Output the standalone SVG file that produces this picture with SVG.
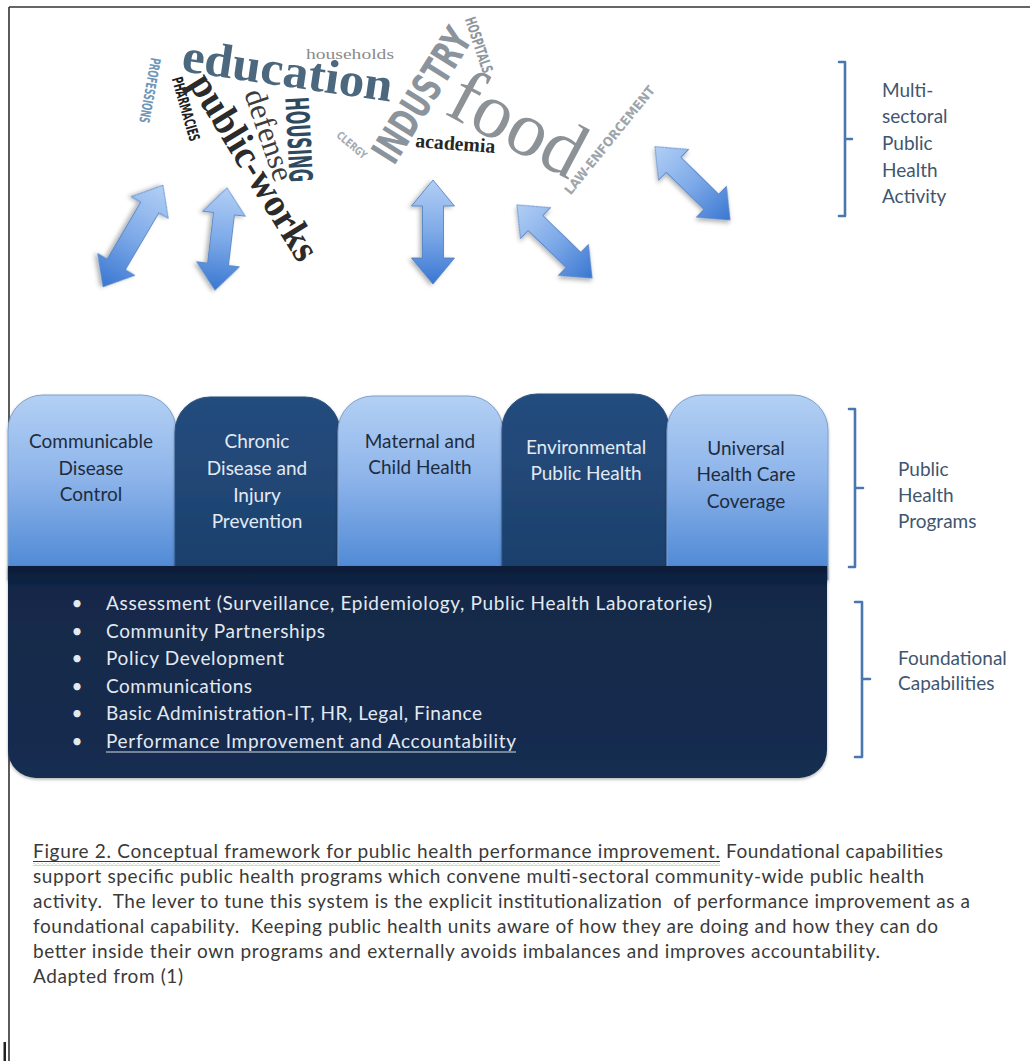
<svg xmlns="http://www.w3.org/2000/svg" width="1030" height="1061" viewBox="0 0 1030 1061">
<defs>
<style>
.cal{font-family:Lato,"Open Sans","Liberation Sans",sans-serif;}
.lbl{font-size:19px;fill:#3f566f;}
.bl{font-size:19px;fill:#1e2c40;text-anchor:middle;}
.bd{font-size:19px;fill:#e2e9f2;text-anchor:middle;}
.bul{font-size:19px;fill:#e3e9f1;}
.cap{font-size:19px;fill:#3a3a3a;}
.serif{font-family:"Liberation Serif","DejaVu Serif",serif;}
.cond{font-family:"Liberation Sans Narrow","DejaVu Sans Condensed","DejaVu Sans",sans-serif;font-weight:bold;}
.arrow{fill:url(#ag);stroke:#4a7cc2;stroke-width:0.8;filter:url(#sh);}
.brk{fill:none;stroke:#4a77ae;stroke-width:2.6;stroke-linecap:round;stroke-linejoin:round;}
.lt{fill:url(#lg);stroke:#7f9fc8;stroke-width:1;filter:url(#bs);}
.dk{fill:url(#dg);stroke:#2a4f7c;stroke-width:1;filter:url(#bs);}
</style>
<linearGradient id="ag" x1="0" y1="0" x2="1" y2="0">
<stop offset="0" stop-color="#b2cff5"/>
<stop offset="0.5" stop-color="#7eaae8"/>
<stop offset="1" stop-color="#3a77d1"/>
</linearGradient>
<linearGradient id="lg" x1="0" y1="0" x2="0" y2="1">
<stop offset="0" stop-color="#b3d0f4"/>
<stop offset="0.45" stop-color="#8db4ea"/>
<stop offset="1" stop-color="#4884d3"/>
</linearGradient>
<linearGradient id="dg" x1="0" y1="0" x2="0" y2="1">
<stop offset="0" stop-color="#244d7e"/>
<stop offset="1" stop-color="#1c3f6c"/>
</linearGradient>
<linearGradient id="fg" x1="0" y1="0" x2="0" y2="1">
<stop offset="0" stop-color="#0c1c38"/>
<stop offset="0.12" stop-color="#132848"/>
<stop offset="1" stop-color="#172d50"/>
</linearGradient>
<pattern id="wavy" x="0" y="0" width="4" height="3" patternUnits="userSpaceOnUse">
<polyline points="0,0.5 2,2.5 4,0.5" fill="none" stroke="#7cc35a" stroke-width="0.9"/>
</pattern>
<filter id="sh" x="-30%" y="-30%" width="160%" height="160%">
<feDropShadow dx="1.5" dy="2.5" stdDeviation="2" flood-color="#000" flood-opacity="0.3"/>
</filter>
<filter id="bs" x="-10%" y="-10%" width="120%" height="120%">
<feDropShadow dx="0" dy="1.5" stdDeviation="1.5" flood-color="#000" flood-opacity="0.3"/>
</filter>
</defs>

<rect x="0" y="0" width="1030" height="1061" fill="#ffffff"/>
<g id="border">
<line x1="9" y1="7" x2="1030" y2="7" stroke="#333" stroke-width="1.6"/>
<line x1="9" y1="7" x2="9" y2="1061" stroke="#333" stroke-width="1.6"/>
<rect x="3.5" y="1042" width="2.5" height="19" fill="#222"/>
</g>

<g id="word-cloud">
<text class="cond" transform="translate(150,90.5) rotate(100.5)" text-anchor="middle" y="5" font-size="14" textLength="66" lengthAdjust="spacingAndGlyphs" fill="#6f97b7">PROFESSIONS</text>
<text class="cond" transform="translate(186,109) rotate(74)" text-anchor="middle" y="5.4" font-size="15" textLength="66" lengthAdjust="spacingAndGlyphs" fill="#1e1e1e">PHARMACIES</text>
<text class="serif" transform="translate(287,75.5) rotate(8.3)" text-anchor="middle" y="11" font-size="48" font-weight="bold" textLength="212" lengthAdjust="spacingAndGlyphs" fill="#4b687e">education</text>
<text class="serif" x="350" y="59" text-anchor="middle" font-size="15" textLength="88" lengthAdjust="spacingAndGlyphs" fill="#8a8a8a">households</text>
<text class="serif" transform="translate(251,169) rotate(58.5)" text-anchor="middle" y="9" font-size="40" font-weight="bold" textLength="212" lengthAdjust="spacingAndGlyphs" fill="#2b2b2b">public-works</text>
<text class="serif" transform="translate(266,136) rotate(71)" text-anchor="middle" y="7" font-size="31" textLength="95" lengthAdjust="spacingAndGlyphs" fill="#3d3d3d">defense</text>
<text class="cond" transform="translate(299,139.5) rotate(87)" text-anchor="middle" y="11.5" font-size="32" textLength="85" lengthAdjust="spacingAndGlyphs" fill="#2f4a5f">HOUSING</text>
<text class="cond" transform="translate(352,145) rotate(40)" text-anchor="middle" y="4" font-size="11" textLength="36" lengthAdjust="spacingAndGlyphs" fill="#a3acb4">CLERGY</text>
<text class="cond" transform="translate(421.5,95) rotate(-58)" text-anchor="middle" y="14.4" font-size="40" textLength="150" lengthAdjust="spacingAndGlyphs" fill="#8b949c">INDUSTRY</text>
<text class="cond" transform="translate(479,45) rotate(71.6)" text-anchor="middle" y="5.4" font-size="15" textLength="58" lengthAdjust="spacingAndGlyphs" fill="#8f979e">HOSPITALS</text>
<text class="serif" transform="translate(443,113) rotate(28)" x="0" y="0" font-size="78" textLength="143" lengthAdjust="spacingAndGlyphs" fill="#8d9297">food</text>
<text class="serif" transform="translate(415,147) rotate(4.3)" x="0" y="0" font-size="20" font-weight="bold" textLength="80" lengthAdjust="spacingAndGlyphs" fill="#262626">academia</text>
<text class="cond" transform="translate(609.5,140) rotate(-51)" text-anchor="middle" y="4.7" font-size="13" textLength="135" lengthAdjust="spacingAndGlyphs" fill="#9ea5ab">LAW-ENFORCEMENT</text>
</g>

<g id="connectors">
<path class="arrow" transform="translate(133,236) rotate(120.5)" d="M-59,0 L-33,-21.5 L-33,-10.5 L33,-10.5 L33,-21.5 L59,0 L33,21.5 L33,10.5 L-33,10.5 L-33,21.5 Z"/>
<path class="arrow" transform="translate(221,239) rotate(96.7)" d="M-51.5,0 L-25.5,-21.5 L-25.5,-10.5 L25.5,-10.5 L25.5,-21.5 L51.5,0 L25.5,21.5 L25.5,10.5 L-25.5,10.5 L-25.5,21.5 Z"/>
<path class="arrow" transform="translate(433,232) rotate(90)" d="M-52,0 L-26,-21.5 L-26,-10.5 L26,-10.5 L26,-21.5 L52,0 L26,21.5 L26,10.5 L-26,10.5 L-26,21.5 Z"/>
<path class="arrow" transform="translate(554.5,241.5) rotate(44.2)" d="M-52.5,0 L-26.5,-21.5 L-26.5,-10.5 L26.5,-10.5 L26.5,-21.5 L52.5,0 L26.5,21.5 L26.5,10.5 L-26.5,10.5 L-26.5,21.5 Z"/>
<path class="arrow" transform="translate(692.5,183.3) rotate(44.3)" d="M-52.5,0 L-26.5,-21.5 L-26.5,-10.5 L26.5,-10.5 L26.5,-21.5 L52.5,0 L26.5,21.5 L26.5,10.5 L-26.5,10.5 L-26.5,21.5 Z"/>
</g>

<g id="bracket-multisectoral">
<path class="brk" d="M839,62 H845 V216 H839 M845,139 H852"/>
<text class="cal lbl" x="882" y="97">Multi-</text>
<text class="cal lbl" x="882" y="123">sectoral</text>
<text class="cal lbl" x="882" y="150">Public</text>
<text class="cal lbl" x="882" y="177">Health</text>
<text class="cal lbl" x="882" y="203">Activity</text>
</g>

<g id="program-communicable">
<path class="lt" d="M8,580 V430 A35,35 0 0 1 43,395 H141 A35,35 0 0 1 176,430 V580 Z"/>
<text class="cal bl" x="91" y="448">Communicable</text>
<text class="cal bl" x="91" y="475">Disease</text>
<text class="cal bl" x="91" y="501">Control</text>
</g>
<g id="program-chronic">
<path class="dk" d="M175,580 V432 A35,35 0 0 1 210,397 H305 A35,35 0 0 1 340,432 V580 Z"/>
<text class="cal bd" x="257" y="448">Chronic</text>
<text class="cal bd" x="257" y="475">Disease and</text>
<text class="cal bd" x="257" y="502">Injury</text>
<text class="cal bd" x="257" y="528">Prevention</text>
</g>
<g id="program-maternal">
<path class="lt" d="M338,580 V431 A35,35 0 0 1 373,396 H468 A35,35 0 0 1 503,431 V580 Z"/>
<text class="cal bl" x="420" y="448">Maternal and</text>
<text class="cal bl" x="420" y="474">Child Health</text>
</g>
<g id="program-environmental">
<path class="dk" d="M502,580 V429 A35,35 0 0 1 537,394 H634 A35,35 0 0 1 669,429 V580 Z"/>
<text class="cal bd" x="586" y="454">Environmental</text>
<text class="cal bd" x="586" y="480">Public Health</text>
</g>
<g id="program-universal">
<path class="lt" d="M667,580 V430 A35,35 0 0 1 702,395 H793 A35,35 0 0 1 828,430 V580 Z"/>
<text class="cal bl" x="746" y="455">Universal</text>
<text class="cal bl" x="746" y="481">Health Care</text>
<text class="cal bl" x="746" y="508">Coverage</text>
</g>

<g id="bracket-programs">
<path class="brk" d="M849,409 H855 V567 H849 M855,488 H863"/>
<text class="cal lbl" x="898" y="476">Public</text>
<text class="cal lbl" x="898" y="502">Health</text>
<text class="cal lbl" x="898" y="528">Programs</text>
</g>

<g id="foundational-capabilities">
<path d="M8,566 H827 V750 A28,28 0 0 1 799,778 H36 A28,28 0 0 1 8,750 Z" fill="url(#fg)" filter="url(#bs)"/>
<text class="cal bul" x="77" y="610" text-anchor="middle">•</text>
<text class="cal bul" x="106" y="610" textLength="606" lengthAdjust="spacing">Assessment (Surveillance, Epidemiology, Public Health Laboratories)</text>
<text class="cal bul" x="77" y="637.5" text-anchor="middle">•</text>
<text class="cal bul" x="106" y="637.5" textLength="219" lengthAdjust="spacing">Community Partnerships</text>
<text class="cal bul" x="77" y="665" text-anchor="middle">•</text>
<text class="cal bul" x="106" y="665" textLength="178" lengthAdjust="spacing">Policy Development</text>
<text class="cal bul" x="77" y="692.5" text-anchor="middle">•</text>
<text class="cal bul" x="106" y="692.5" textLength="146" lengthAdjust="spacing">Communications</text>
<text class="cal bul" x="77" y="720" text-anchor="middle">•</text>
<text class="cal bul" x="106" y="720" textLength="376" lengthAdjust="spacing">Basic Administration-IT, HR, Legal, Finance</text>
<text class="cal bul" x="77" y="747.5" text-anchor="middle">•</text>
<text class="cal bul" x="106" y="747.5" textLength="410" lengthAdjust="spacing">Performance Improvement and Accountability</text>
<line x1="106" y1="752" x2="516" y2="752" stroke="#d3dbe6" stroke-width="1.2"/>
</g>

<g id="bracket-foundational">
<path class="brk" d="M855,602 H862 V757 H855 M862,679 H870"/>
<text class="cal lbl" x="898" y="665">Foundational</text>
<text class="cal lbl" x="898" y="690">Capabilities</text>
</g>

<g id="caption">
<text class="cal cap" x="33" y="858" textLength="687" lengthAdjust="spacing">Figure 2. Conceptual framework for public health performance improvement.</text>
<line x1="33" y1="861.5" x2="720" y2="861.5" stroke="#3a3a3a" stroke-width="1"/>
<rect x="33" y="863" width="687" height="3" fill="url(#wavy)"/>
<text class="cal cap" x="726" y="858" textLength="217" lengthAdjust="spacing">Foundational capabilities</text>
<text class="cal cap" x="33" y="883" textLength="891" lengthAdjust="spacing">support specific public health programs which convene multi-sectoral community-wide public health</text>
<text class="cal cap" x="33" y="908" textLength="937" lengthAdjust="spacing" xml:space="preserve">activity.  The lever to tune this system is the explicit institutionalization  of performance improvement as a</text>
<text class="cal cap" x="33" y="933" textLength="905" lengthAdjust="spacing" xml:space="preserve">foundational capability.  Keeping public health units aware of how they are doing and how they can do</text>
<text class="cal cap" x="33" y="958" textLength="847" lengthAdjust="spacing">better inside their own programs and externally avoids imbalances and improves accountability.</text>
<text class="cal cap" x="33" y="983" textLength="150" lengthAdjust="spacing">Adapted from (1)</text>
</g>
</svg>
